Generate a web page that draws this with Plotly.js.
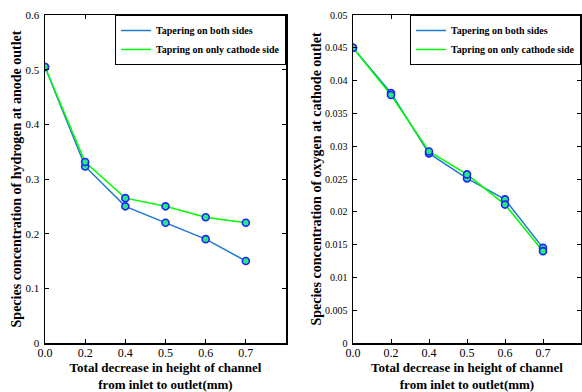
<!DOCTYPE html>
<html>
<head>
<meta charset="utf-8">
<script src="https://cdn.plot.ly/plotly-3.0.1.min.js"></script>
<style>html,body{margin:0;padding:0;background:#fff}#chart{width:582px;height:392px}</style>
</head>
<body>
<div id="chart"></div>
<script>
const categories = ['0.0', '0.2', '0.4', '0.5', '0.6', '0.7'];
const hydrogenBoth = [0.505, 0.323, 0.250, 0.220, 0.190, 0.150];
const hydrogenCathode = [0.505, 0.331, 0.265, 0.250, 0.230, 0.220];
const oxygenBoth = [0.0450, 0.0381, 0.0289, 0.0251, 0.0219, 0.0145];
const oxygenCathode = [0.0450, 0.0378, 0.0292, 0.0257, 0.0211, 0.0140];
const seriesNames = ['Tapering on both sides', 'Tapring on only cathode side'];
const xTitle = 'Total decrease in height of channel<br>from inlet to outlet(mm)';
const yTitleLeft = 'Species concentration of hydrogen at anode outlet';
const yTitleRight = 'Species concentration of oxygen at cathode outlet';

const blue = '#1f78d1';
const green = '#00ff00';
const marker = {symbol: 'circle', size: 7, color: '#22ee77', line: {color: '#2020ff', width: 1.6}};
const serif = 'Liberation Serif';

function lineTr(y, name, color, xa, ya, leg) {
  return {x: categories, y: y, name: name, type: 'scatter', mode: 'lines',
    line: {color: color, width: 1.5}, xaxis: xa, yaxis: ya, legend: leg, showlegend: true};
}
function markTr(y, name, xa, ya, leg) {
  return {x: categories, y: y, name: name, type: 'scatter', mode: 'markers',
    marker: marker, xaxis: xa, yaxis: ya, legend: leg, showlegend: false};
}
const data = [
  lineTr(hydrogenBoth, seriesNames[0], blue, 'x', 'y', 'legend'),
  lineTr(hydrogenCathode, seriesNames[1], green, 'x', 'y', 'legend'),
  markTr(hydrogenBoth, seriesNames[0], 'x', 'y', 'legend'),
  markTr(hydrogenCathode, seriesNames[1], 'x', 'y', 'legend'),
  lineTr(oxygenBoth, seriesNames[0], blue, 'x2', 'y2', 'legend2'),
  lineTr(oxygenCathode, seriesNames[1], green, 'x2', 'y2', 'legend2'),
  markTr(oxygenBoth, seriesNames[0], 'x2', 'y2', 'legend2'),
  markTr(oxygenCathode, seriesNames[1], 'x2', 'y2', 'legend2')
];

const H = 392, W = 582;
const yDom = [(H - 343) / H, (H - 15) / H];
function xax(dom) {
  return {domain: dom, type: 'category', range: [0, 6], showgrid: false, zeroline: false,
    showline: true, linecolor: '#000', linewidth: 1.5, mirror: 'ticks', ticks: 'inside', ticklen: 4,
    tickcolor: '#000', tickfont: {family: serif, size: 12, color: '#000'}, ticklabelstandoff: -2,
    title: {text: xTitle, font: {family: serif, size: 13, color: '#000', weight: 'bold'}}};
}
function yax(dom, r, dt, anchor, title, fs) {
  return {domain: dom, anchor: anchor, range: r, dtick: dt, tick0: 0, showgrid: false, zeroline: false,
    showline: true, linecolor: '#000', linewidth: 1.5, mirror: 'ticks', ticks: 'inside', ticklen: 4,
    tickcolor: '#000', tickfont: {family: serif, size: fs, color: '#000'}, ticklabelstandoff: 2,
    title: {text: title, font: {family: serif, size: 14, color: '#000', weight: 'bold'}, standoff: 0}};
}
function leg(xr) {
  return {x: xr, xanchor: 'right', y: yDom[1], yanchor: 'top', bgcolor: '#fff',
    bordercolor: '#000', borderwidth: 1, tracegroupgap: 0, itemwidth: 30,
    font: {family: serif, size: 10, color: '#000', weight: 'bold'}};
}
const layout = {
  width: W, height: H, margin: {l: 0, r: 0, t: 0, b: 0},
  paper_bgcolor: '#fff', plot_bgcolor: '#fff',
  xaxis: Object.assign(xax([45 / W, 286 / W]), {anchor: 'y'}),
  yaxis: yax(yDom, [0, 0.6], 0.1, 'x', yTitleLeft, 11),
  xaxis2: Object.assign(xax([353 / W, 581 / W]), {anchor: 'y2'}),
  yaxis2: yax(yDom, [0, 0.05], 0.005, 'x2', yTitleRight, 10),
  legend: leg(286 / W),
  legend2: leg(581 / W),
  showlegend: true
};
Plotly.newPlot('chart', data, layout, {displayModeBar: false, staticPlot: true});
</script>
</body>
</html>
